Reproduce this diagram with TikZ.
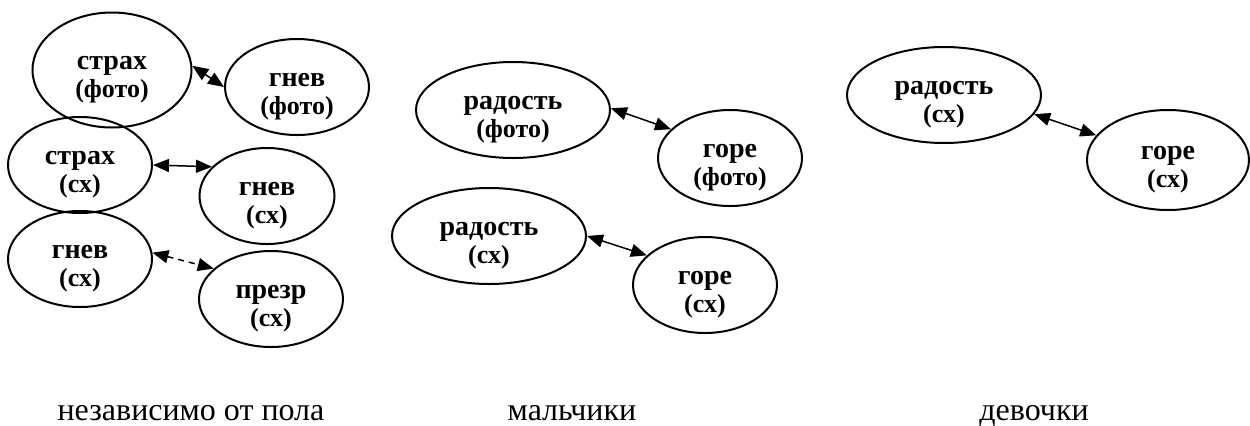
\documentclass[tikz,border=0pt]{standalone}
\usepackage{fontspec}
\setmainfont{Liberation Serif}
\usetikzlibrary{arrows.meta,shapes}
\newcommand{\emotext}[2]{\rule{0pt}{16pt}#1\\{\fontsize{13}{14}\selectfont(#2)}}

\begin{document}
\begin{tikzpicture}[<->,>={Triangle[length=8pt,width=6.5pt]},x=0.5pt,y=-0.5pt,line width=0.75pt]
\tikzstyle{emo}=[shape=ellipse,draw,line width=1pt,inner sep=0pt,align=center,
  minimum width=72pt,minimum height=48pt,font=\fontsize{14}{14}\selectfont\bfseries]
\tikzstyle{wide}=[minimum width=97pt]
\tikzstyle{caption}=[anchor=base,font=\fontsize{16}{18}\selectfont]
\useasboundingbox (0,0) rectangle (1250,425);

% independent of sex
\node[emo]          (SF) [minimum width=79.5pt,minimum height=57.5pt] at (112,70)  {\emotext{страх}{фото}};
\node[emo]          (GF) at (297,87)  {\emotext{гнев}{фото}};
\node[emo]          (SS) at (80,165)  {\emotext{страх}{сх}};
\node[emo]          (GS) [minimum width=67.5pt] at (267,196) {\emotext{гнев}{сх}};
\node[emo]          (G2) at (80,259)  {\emotext{гнев}{сх}};
\node[emo]          (PS) at (271,299) {\emotext{презр}{сх}};

% boys
\node[emo,wide]     (RF) at (513,110) {\emotext{радость}{фото}};
\node[emo]          (HF) at (730,158) {\emotext{горе}{фото}};
\node[emo,wide]     (RS) at (489,236) {\emotext{радость}{сх}};
\node[emo]          (HS) at (705,285) {\emotext{горе}{сх}};

% girls
\node[emo,wide]     (RD) at (944,95)  {\emotext{радость}{сх}};
\node[emo]          (HD) [minimum width=81pt,minimum height=50pt] at (1168,160) {\emotext{горе}{сх}};

\node[caption]      (C1) at (191,420)  {независимо от пола};
\node[caption]      (C2) at (572,420)  {мальчики};
\node[caption]      (C3) at (1034,420) {девочки};

\path
(SF.3)   edge (GF.180)
(SS.0)   edge (GS.152)
(G2.5)   edge[dash pattern=on 3pt off 2.5pt] (PS.152)
(RF.1)   edge (HF.154)
(RS.0)   edge (HS.153)
(RD.-12) edge (HD.161)
;
\end{tikzpicture}
\end{document}
